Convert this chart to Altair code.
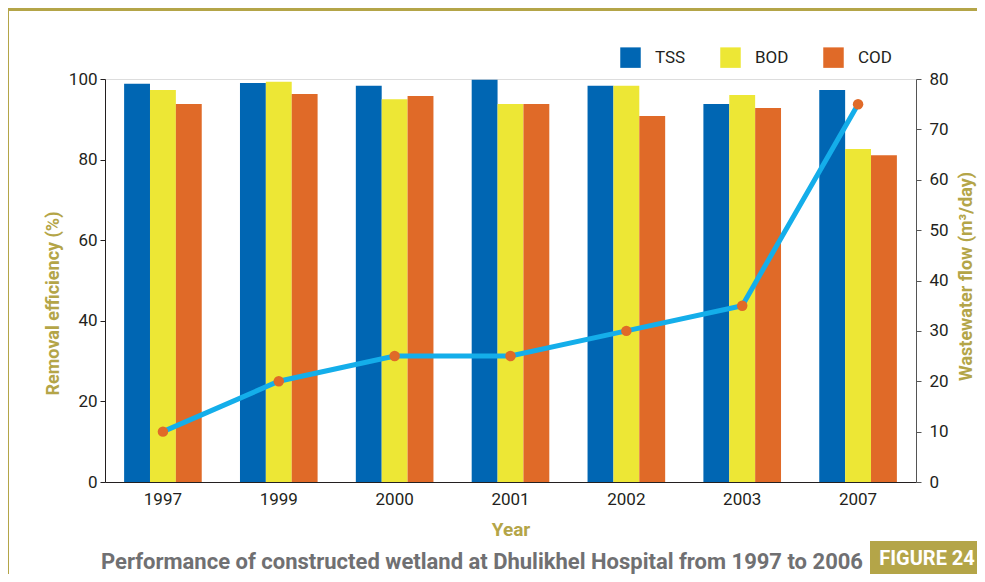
import altair as alt
import pandas as pd

years = ["1997", "1999", "2000", "2001", "2002", "2003", "2007"]
tss = [98.8, 99.0, 98.3, 99.8, 98.3, 93.8, 97.3]
bod = [97.3, 99.3, 95.0, 93.8, 98.3, 96.0, 82.6]
cod = [93.8, 96.3, 95.8, 93.8, 90.8, 92.8, 81.1]
flow = [10, 20, 25, 25, 30, 35, 75]
params = ["TSS", "BOD", "COD"]
param_colors = ["#0066b3", "#ede735", "#e06a28"]

title_text = "Performance of constructed wetland at Dhulikhel Hospital from 1997 to 2006"
fig_text = "FIGURE 24"

FONT = "Roboto, Liberation Sans, sans-serif"
OLIVE = "#b4a548"
DARK = "#231f20"

rows = []
for i, y in enumerate(years):
    for p, vals in zip(params, [tss, bod, cod]):
        rows.append({"Year": y, "Param": p, "Value": vals[i]})
bars_df = pd.DataFrame(rows)
flow_df = pd.DataFrame({"Year": years, "Flow": flow})

W, H = 811, 403

xscale = alt.Scale(domain=years, paddingInner=0.33, paddingOuter=0.165)

bars = alt.Chart(bars_df).mark_bar().encode(
    x=alt.X("Year:N", scale=xscale, sort=years,
            axis=alt.Axis(title="Year", labelAngle=0, ticks=False, labelPadding=9,
                          labelFontSize=17, labelColor=DARK, labelFont=FONT,
                          domainColor=DARK, domainWidth=1.2,
                          titleFont=FONT, titleFontSize=19, titleFontWeight="bold",
                          titleColor=OLIVE, titleY=47, titleBaseline="middle")),
    xOffset=alt.XOffset("Param:N", sort=params, scale=alt.Scale(domain=params, paddingInner=0, paddingOuter=0)),
    y=alt.Y("Value:Q", scale=alt.Scale(domain=[0, 100], nice=False),
            axis=alt.Axis(title="Removal efficiency (%)", values=[0, 20, 40, 60, 80, 100],
                          grid=False, tickSize=5, labelPadding=3, labelFontSize=17,
                          labelColor=DARK, labelFont=FONT, domainColor=DARK, tickColor=DARK,
                          titleFont=FONT, titleFontSize=18, titleFontWeight="bold",
                          titleColor=OLIVE, titleAngle=270, titleX=-52, titleY=224,
                          titleAlign="center", titleBaseline="middle")),
    color=alt.Color("Param:N", sort=params,
                    scale=alt.Scale(domain=params, range=param_colors),
                    legend=alt.Legend(title=None, orient="none", legendX=515, legendY=-32,
                                      direction="horizontal", symbolType="square",
                                      symbolSize=420, symbolStrokeWidth=0, labelFontSize=17,
                                      labelFont=FONT, labelColor=DARK, labelOffset=14,
                                      columnPadding=34)),
)

flow_axis = alt.Axis(title="Wastewater flow (m³/day)", orient="right",
                     values=[0, 10, 20, 30, 40, 50, 60, 70, 80], grid=False,
                     tickSize=5, labelPadding=8, labelFontSize=17, labelColor=DARK,
                     labelFont=FONT, domainColor="#555555", tickColor="#555555",
                     titleFont=FONT, titleFontSize=18, titleFontWeight="bold",
                     titleColor=OLIVE, titleAngle=270, titleX=50, titleY=197,
                     titleAlign="center", titleBaseline="middle")
fscale = alt.Scale(domain=[0, 80], nice=False)

line = alt.Chart(flow_df).mark_line(color="#14aeea", strokeWidth=5).encode(
    x=alt.X("Year:N", sort=years, scale=xscale),
    y=alt.Y("Flow:Q", scale=fscale, axis=flow_axis),
)
pts = alt.Chart(flow_df).mark_point(filled=True, color="#e06a28", size=110, opacity=1).encode(
    x=alt.X("Year:N", sort=years, scale=xscale),
    y=alt.Y("Flow:Q", scale=fscale, axis=None),
)

deco_df = pd.DataFrame({"t": [title_text]})
frame_top = alt.Chart(deco_df).mark_rect(color=OLIVE).encode(
    x=alt.value(-102), x2=alt.value(880), y=alt.value(-74), y2=alt.value(-68))
frame_left = alt.Chart(deco_df).mark_rect(color=OLIVE).encode(
    x=alt.value(-102), x2=alt.value(-96), y=alt.value(-74), y2=alt.value(495))
frame_right = alt.Chart(deco_df).mark_rect(color=OLIVE).encode(
    x=alt.value(875), x2=alt.value(880), y=alt.value(-74), y2=alt.value(-54))
title_mark = alt.Chart(deco_df).mark_text(
    font=FONT, fontSize=22, fontWeight="bold", color="#707072", align="center",
    baseline="middle").encode(x=alt.value(377), y=alt.value(483), text="t:N")
fig_box = alt.Chart(deco_df).mark_rect(color=OLIVE).encode(
    x=alt.value(765), x2=alt.value(880), y=alt.value(462), y2=alt.value(495))
fig_label = alt.Chart(pd.DataFrame({"t": [fig_text]})).mark_text(
    font=FONT, fontSize=20, fontWeight="bold", color="white", align="center",
    baseline="middle").encode(x=alt.value(822), y=alt.value(480), text="t:N")

main = alt.layer(bars, line, pts).resolve_scale(y="independent")

chart = alt.layer(frame_top, frame_left, frame_right, fig_box, main, title_mark, fig_label).resolve_scale(
    y="independent").properties(
    width=W, height=H,
    autosize=alt.AutoSizeParams(type="none"),
    padding={"left": 97, "top": 71, "right": 61, "bottom": 92},
).configure_view(stroke=None).configure(background="white")

chart.save("out.html", embed_options={"renderer": "svg", "actions": False})
